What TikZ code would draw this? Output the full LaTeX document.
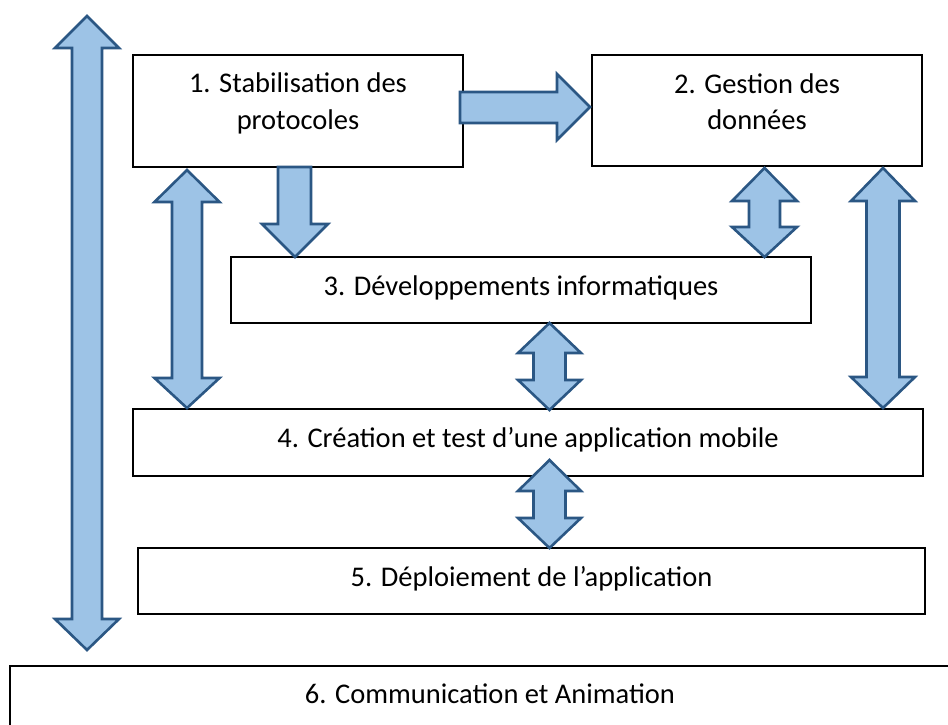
\documentclass[tikz,border=0pt]{standalone}
\usepackage{fontspec}
\setmainfont{Carlito}
\definecolor{arrfill}{HTML}{9DC3E6}
\definecolor{arrline}{HTML}{2B5784}
\newcommand{\vdarrow}[7]{% xc, ytop, ybot, headhalf, shafthalf, toplen, botlen
  \draw[blockarrow] (#1,#2) -- (#1+#4,#2+#6) -- (#1+#5,#2+#6) -- (#1+#5,#3-#7) -- (#1+#4,#3-#7) -- (#1,#3)
    -- (#1-#4,#3-#7) -- (#1-#5,#3-#7) -- (#1-#5,#2+#6) -- (#1-#4,#2+#6) -- cycle;}
\begin{document}
\begin{tikzpicture}[x=1pt,y=-1pt,
  boxnode/.style={draw=black, line width=1.3pt, fill=white, inner sep=0pt},
  lbl/.style={font=\fontsize{28.5}{36.5}\selectfont, align=center, inner sep=0pt, anchor=base},
  blockarrow/.style={draw=arrline, fill=arrfill, line width=2.6pt, line join=miter}]
\useasboundingbox (0,0) rectangle (948,725);
\fill[white] (0,0) rectangle (948,725);

% boxes
\node[boxnode, minimum width=330pt, minimum height=112pt] (b1) at (298,111) {};
\node[boxnode, minimum width=330pt, minimum height=111pt] (b2) at (757,110.5) {};
\node[boxnode, minimum width=580pt, minimum height=66pt] (b3) at (521,290) {};
\node[boxnode, minimum width=790pt, minimum height=67pt] (b4) at (528,442.5) {};
\node[boxnode, minimum width=787pt, minimum height=66pt] (b5) at (531.5,581) {};
\node[boxnode, minimum width=990pt, minimum height=100pt] (b6) at (505,716) {};

% labels (base anchor = baseline of the last line)
\node[lbl] (t1) at (298,129) {1. Stabilisation des\\protocoles};
\node[lbl] (t2) at (757,129.5) {2. Gestion des\\données};
\node[lbl] (t3) at (521,295) {3. Développements informatiques};
\node[lbl] (t4) at (528,447) {4. Création et test d’une application mobile};
\node[lbl] (t5) at (531.5,586) {5. Déploiement de l’application};
\node[lbl] (t6) at (490,703) {6. Communication et Animation};

% big left double arrow
\vdarrow{87}{16}{650}{32}{15}{32}{31}
% 1 <-> 4
\vdarrow{187}{170}{408}{32.5}{15}{32}{30}
% 2 <-> 3
\vdarrow{764.5}{168}{257}{32.5}{15.5}{33}{30}
% 2 <-> 4
\vdarrow{883}{168}{408}{32}{16.5}{33}{31}
% 3 <-> 4
\vdarrow{549.5}{323}{410}{31.5}{16}{30}{30}
% 4 <-> 5
\vdarrow{549.5}{460}{548}{31.5}{16}{31}{30}

% 1 -> 3 down arrow
\draw[blockarrow] (278,167) -- (311,167) -- (311,224) -- (328,224) -- (295,257) -- (262,224) -- (278,224) -- cycle;
% 1 -> 2 right arrow
\draw[blockarrow] (460,92) -- (557,92) -- (557,74) -- (590,107) -- (557,140) -- (557,123) -- (460,123) -- cycle;
\end{tikzpicture}
\end{document}
